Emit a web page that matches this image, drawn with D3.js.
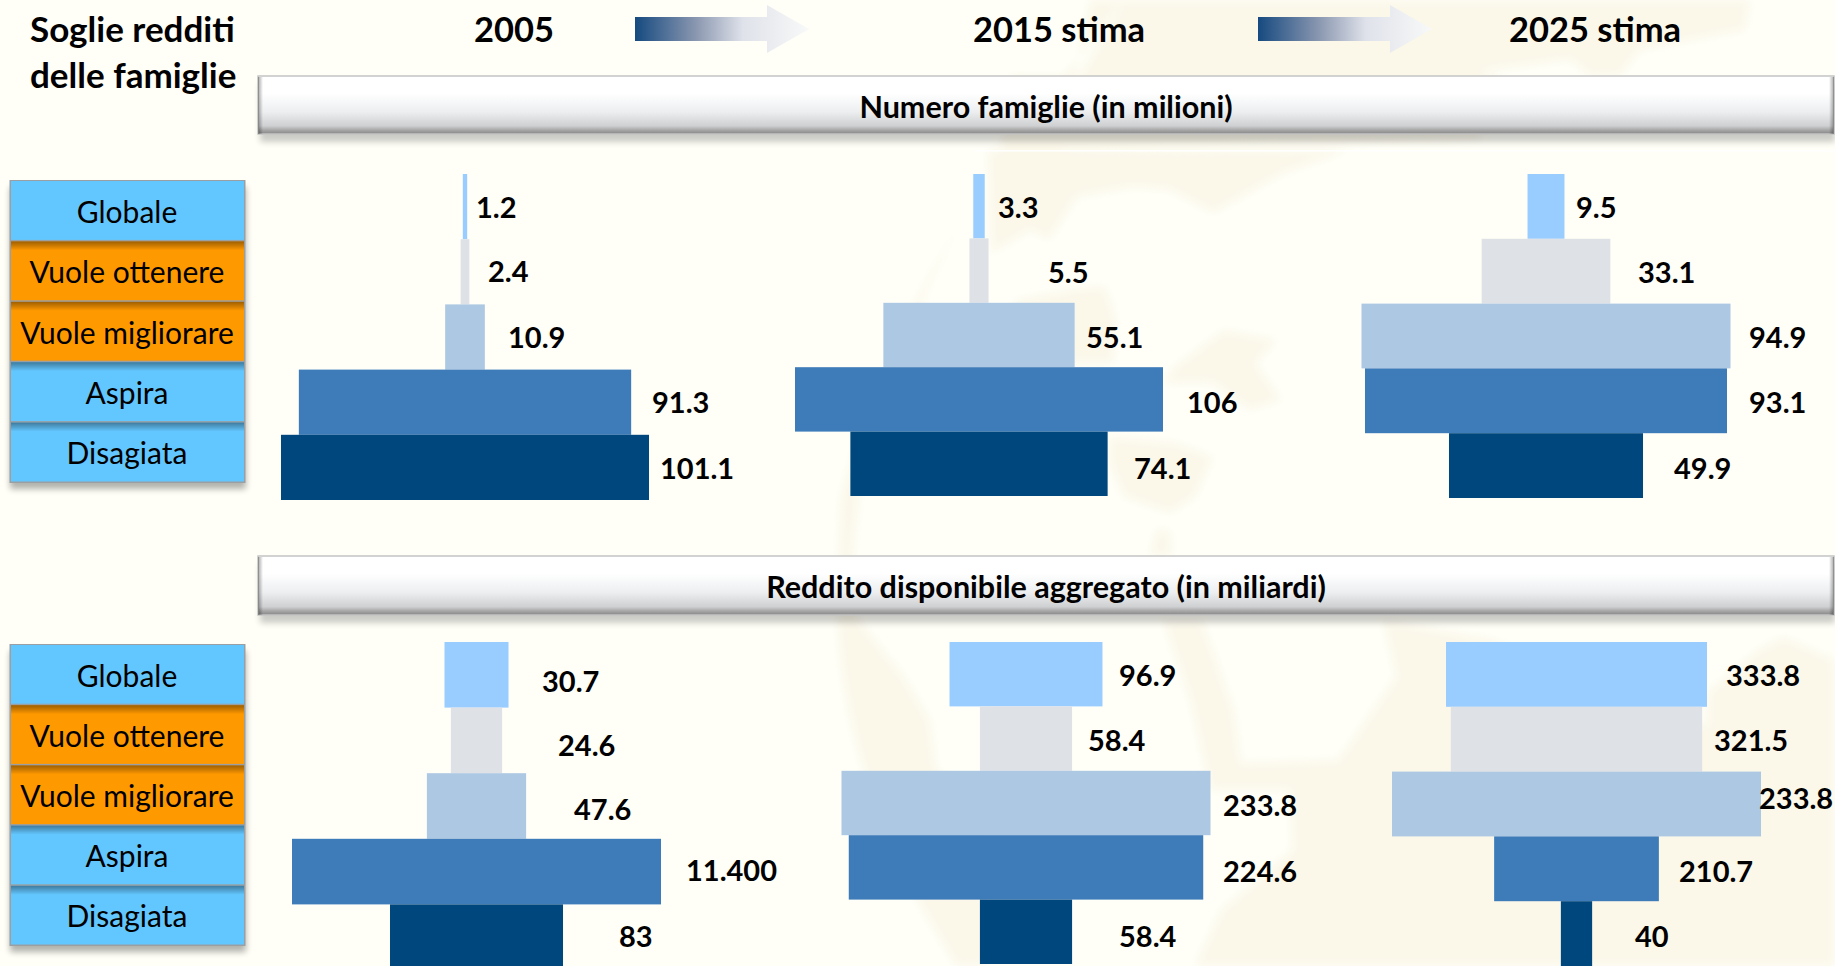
<!DOCTYPE html>
<html>
<head>
<meta charset="utf-8">
<script src="https://cdn.jsdelivr.net/npm/d3@7"></script>
<style>
  html, body { margin: 0; padding: 0; background: #fffff8; overflow: hidden; }
  text { font-family: Lato, "Open Sans", sans-serif; fill: #000; }
</style>
</head>
<body>
<svg></svg>
<script>
// Categorie (dall'alto verso il basso)
const categorie = ["Globale", "Vuole ottenere", "Vuole migliorare", "Aspira", "Disagiata"];
const anni = ["2005", "2015 stima", "2025 stima"];

// Numero famiglie (in milioni)
const famiglie2005 = [1.2, 2.4, 10.9, 91.3, 101.1];
const famiglie2015 = [3.3, 5.5, 55.1, 106, 74.1];
const famiglie2025 = [9.5, 33.1, 94.9, 93.1, 49.9];

// Reddito disponibile aggregato (in miliardi): lunghezza barre
const reddito2005 = [30.7, 24.6, 47.6, 177, 83];
const reddito2015 = [96.9, 58.4, 233.8, 224.6, 58.4];
const reddito2025 = [333.8, 321.5, 472, 210.7, 40];

// Etichette come stampate nel grafico (due non corrispondono alla barra)
const etichetteReddito2005 = ["30.7", "24.6", "47.6", "11.400", "83"];
const etichetteReddito2015 = ["96.9", "58.4", "233.8", "224.6", "58.4"];
const etichetteReddito2025 = ["333.8", "321.5", "233.8", "210.7", "40"];

const coloriBarre = ["#99ccff", "#dee2e7", "#adc8e3", "#3d7bb9", "#00477d"];
const coloriBox = ["#63c7ff", "#ff9900", "#ff9900", "#63c7ff", "#63c7ff"];

const width = 1835;
const height = 966;

const svg = d3.select("svg").attr("width", width).attr("height", height);
const defs = svg.append("defs");

// Gradienti
const gradTitolo = defs.append("linearGradient").attr("id", "gradTitolo")
  .attr("x1", 0).attr("y1", 0).attr("x2", 0).attr("y2", 1);
[[0, "#ffffff"], [0.3, "#ffffff"], [0.62, "#eceef0"], [0.86, "#cfd0d2"], [0.93, "#a8a8a8"], [1, "#868686"]]
  .forEach(([o, c]) => gradTitolo.append("stop").attr("offset", o).attr("stop-color", c));

const gradLato = defs.append("linearGradient").attr("id", "gradLato")
  .attr("x1", 0).attr("y1", 0).attr("x2", 1).attr("y2", 0);
gradLato.append("stop").attr("offset", 0).attr("stop-color", "#000").attr("stop-opacity", 0.35);
gradLato.append("stop").attr("offset", 1).attr("stop-color", "#000").attr("stop-opacity", 0);

const gradFreccia = defs.append("linearGradient").attr("id", "gradFreccia")
  .attr("x1", 0).attr("y1", 0).attr("x2", 1).attr("y2", 0);
[[0, "#164a80"], [0.35, "#8a97b0"], [0.62, "#dfe2ea"], [1, "#f8f9f8"]]
  .forEach(([o, c]) => gradFreccia.append("stop").attr("offset", o).attr("stop-color", c));

const gradOmbra = defs.append("linearGradient").attr("id", "gradOmbra")
  .attr("x1", 0).attr("y1", 0).attr("x2", 0).attr("y2", 1);
gradOmbra.append("stop").attr("offset", 0).attr("stop-color", "#000").attr("stop-opacity", 0.38);
gradOmbra.append("stop").attr("offset", 1).attr("stop-color", "#000").attr("stop-opacity", 0);

const blur = defs.append("filter").attr("id", "sfoca")
  .attr("x", "-5%").attr("y", "-20%").attr("width", "110%").attr("height", "140%");
blur.append("feGaussianBlur").attr("stdDeviation", 3);

const blurMappa = defs.append("filter").attr("id", "sfocaMappa")
  .attr("filterUnits", "userSpaceOnUse")
  .attr("x", 0).attr("y", 0).attr("width", width).attr("height", height);
blurMappa.append("feGaussianBlur").attr("stdDeviation", 5);

// Sfondo: mappamondo appena visibile
const sfondo = svg.append("g").attr("fill", "#fbf8ea").attr("filter", "url(#sfocaMappa)");
[
  "M1124,0 C1030,120 900,270 841,497 L837,600 C838,690 860,790 917,900 L956,966 L985,966 L985,800 L936,770 L930,720 L904,677 L859,620 L852,560 L859,497 C880,400 930,260 988,180 L1060,150 L1090,0 Z",
  "M1124,0 L1750,0 L1745,30 L1640,50 L1620,76 L1590,76 L1570,60 L1490,70 L1480,76 L1080,76 Z",
  "M1010,76 L1500,76 L1480,140 L1000,150 Z",
  "M988,150 L1350,150 L1284,173 L1213,213 L1170,190 L1134,187 L1077,197 L1049,240 L1031,230 L991,253 Z",
  "M1016,300 L1080,288 L1106,287 L1116,320 L1113,363 L1016,363 Z",
  "M1174,367 L1224,330 L1277,340 L1256,363 L1281,400 L1249,410 L1213,383 L1163,383 Z",
  "M1109,437 L1177,443 L1213,457 L1195,497 L1170,513 L1124,497 L1109,463 Z",
  "M1156,530 L1170,530 L1172,556 L1150,556 Z",
  "M1163,620 L1202,620 L1234,710 L1241,763 L1338,760 L1396,677 L1383,620 L1493,640 L1707,727 L1707,693 L1758,650 L1784,637 L1835,660 L1835,966 L1195,966 L1221,910 L1292,850 L1290,790 L1210,790 L1190,700 Z"
].forEach(d => sfondo.append("path").attr("d", d));
svg.append("rect").attr("x", 975).attr("y", 150).attr("width", 860).attr("height", 1.5).attr("fill", "#ffffff");

// Intestazioni
svg.append("text").attr("x", 30).attr("y", 30).attr("dy", "0.35em")
  .style("font-size", "35px").style("font-weight", 700).text("Soglie redditi");
svg.append("text").attr("x", 30).attr("y", 76).attr("dy", "0.35em")
  .style("font-size", "35px").style("font-weight", 700).text("delle famiglie");

const xAnni = [514, 1059, 1595];
svg.selectAll("text.anno")
  .data(anni)
  .enter()
  .append("text")
  .attr("class", "anno")
  .attr("x", (d, i) => xAnni[i])
  .attr("y", 30)
  .attr("dy", "0.35em")
  .attr("text-anchor", "middle")
  .style("font-size", "34.5px")
  .style("font-weight", 700)
  .text(d => d);

// Frecce
[[635, 767, 809], [1258, 1390, 1432]].forEach(([x0, x1, x2]) => {
  svg.append("path")
    .attr("d", `M${x0},17 H${x1} V5 L${x2},29 L${x1},53 V41 H${x0} Z`)
    .attr("fill", "url(#gradFreccia)");
});

// Barre dei titoli
const titoli = [
  { testo: "Numero famiglie (in milioni)", y0: 76, y1: 134 },
  { testo: "Reddito disponibile aggregato (in miliardi)", y0: 556, y1: 615 }
];
titoli.forEach(t => {
  const h = t.y1 - t.y0;
  svg.append("rect").attr("x", 260).attr("y", t.y0 + 8).attr("width", 1575)
    .attr("height", h).attr("fill", "#000").attr("opacity", 0.2)
    .attr("filter", "url(#sfoca)");
  svg.append("rect").attr("x", 258).attr("y", t.y0).attr("width", 1576)
    .attr("height", h).attr("fill", "url(#gradTitolo)")
    .attr("stroke", "#c4c4c4").attr("stroke-width", 1.5);
  // smussi laterali
  svg.append("rect").attr("x", 258).attr("y", t.y0 + 1).attr("width", 5)
    .attr("height", h - 1).attr("fill", "url(#gradLato)");
  svg.append("rect").attr("x", 1829).attr("y", t.y0 + 1).attr("width", 5)
    .attr("height", h - 1).attr("fill", "url(#gradLato)")
    .attr("transform", `rotate(180 1831.5 ${t.y0 + h / 2 + 0.5})`);
  svg.append("text").attr("x", 1046).attr("y", (t.y0 + t.y1) / 2 + 2).attr("dy", "0.35em")
    .attr("text-anchor", "middle")
    .style("font-size", "30.5px").style("font-weight", 700).text(t.testo);
});

// Colonna delle categorie
function disegnaBox(y0, y1) {
  const y = d3.scaleBand().domain(categorie).range([y0, y1]);
  const g = svg.append("g");
  g.append("rect").attr("x", 10).attr("y", y0 + 6).attr("width", 236).attr("height", y1 - y0)
    .attr("fill", "#000").attr("opacity", 0.3).attr("filter", "url(#sfoca)");
  g.append("rect").attr("x", 9.5).attr("y", y0 - 1).attr("width", 236).attr("height", y1 - y0 + 1)
    .attr("fill", "#9a9fa3");
  g.selectAll("rect.box")
    .data(categorie)
    .enter()
    .append("rect")
    .attr("class", "box")
    .attr("x", 11)
    .attr("y", d => y(d))
    .attr("width", 233)
    .attr("height", y.bandwidth() - 1.5)
    .attr("fill", (d, i) => coloriBox[i]);
  g.selectAll("rect.ombra")
    .data(categorie.slice(1))
    .enter()
    .append("rect")
    .attr("class", "ombra")
    .attr("x", 11)
    .attr("y", d => y(d))
    .attr("width", 233)
    .attr("height", 9)
    .attr("fill", "url(#gradOmbra)");
  g.selectAll("text")
    .data(categorie)
    .enter()
    .append("text")
    .attr("x", 127)
    .attr("y", d => y(d) + y.bandwidth() / 2 + 1)
    .attr("dy", "0.35em")
    .attr("text-anchor", "middle")
    .style("font-size", "30px")
    .text(d => d);
}
disegnaBox(181, 483);
disegnaBox(645, 946);

// Pannelli: ogni pannello ha la sua scala, come nell'originale
const pannelli = [
  { valori: famiglie2005, etichette: famiglie2005.map(String), centro: 465, y: [174, 500], maxPx: 368,
    lx: [476, 488, 508, 652, 660], ly: [208, 272, 338, 403, 469] },
  { valori: famiglie2015, etichette: famiglie2015.map(String), centro: 979, y: [174, 496], maxPx: 368,
    lx: [998, 1048, 1086, 1187, 1134], ly: [208, 273, 338, 403, 469] },
  { valori: famiglie2025, etichette: famiglie2025.map(String), centro: 1546, y: [174, 498], maxPx: 369,
    lx: [1576, 1638, 1749, 1749, 1674], ly: [208, 273, 338, 403, 469] },
  { valori: reddito2005, etichette: etichetteReddito2005, centro: 476.5, y: [642, 970], maxPx: 369,
    lx: [542, 558, 574, 686, 619], ly: [682, 746, 810, 871, 937] },
  { valori: reddito2015, etichette: etichetteReddito2015, centro: 1026, y: [642, 964], maxPx: 369,
    lx: [1119, 1088, 1223, 1223, 1119], ly: [676, 741, 806, 872, 937] },
  { valori: reddito2025, etichette: etichetteReddito2025, centro: 1576.5, y: [642, 966], maxPx: 369,
    lx: [1726, 1714, 1759, 1679, 1635], ly: [676, 741, 799, 872, 937] }
];

pannelli.forEach(p => {
  const x = d3.scaleLinear().domain([0, d3.max(p.valori)]).range([0, p.maxPx]);
  const y = d3.scaleBand().domain(categorie).range(p.y);
  const g = svg.append("g");

  g.selectAll("rect")
    .data(p.valori)
    .enter()
    .append("rect")
    .attr("x", d => p.centro - x(d) / 2)
    .attr("y", (d, i) => y(categorie[i]))
    .attr("width", d => x(d))
    .attr("height", y.bandwidth())
    .attr("fill", (d, i) => coloriBarre[i]);

  g.selectAll("text")
    .data(p.etichette)
    .enter()
    .append("text")
    .attr("x", (d, i) => p.lx[i])
    .attr("y", (d, i) => p.ly[i])
    .attr("dy", "0.35em")
    .style("font-size", "29px")
    .style("font-weight", 700)
    .text(d => d);
});
</script>
</body>
</html>
